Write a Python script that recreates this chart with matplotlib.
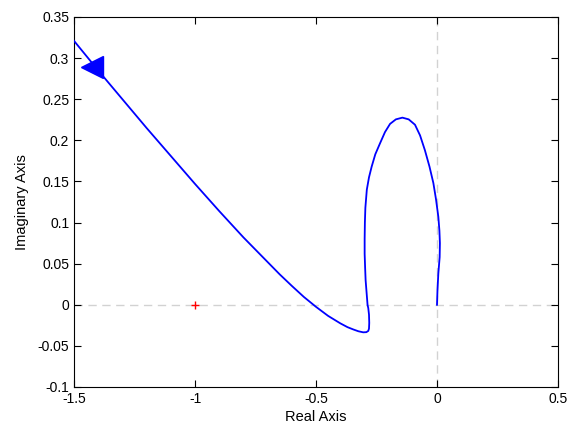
import matplotlib
matplotlib.use("Agg")
import matplotlib.pyplot as plt

plt.rcParams['font.family'] = ['Liberation Sans', 'DejaVu Sans']
plt.rcParams['axes.unicode_minus'] = False

# Nyquist curve (real part, imaginary part), in order
re_vals = [-1.500, -1.400, -1.300, -1.200, -1.100, -1.000, -0.900, -0.800, -0.700,
           -0.650, -0.600, -0.550, -0.500, -0.450, -0.400, -0.370, -0.346, -0.325, -0.305,
           -0.292, -0.284, -0.281, -0.280, -0.281, -0.284, -0.287, -0.291, -0.295,
           -0.297, -0.299, -0.299, -0.298, -0.296, -0.290, -0.281, -0.270, -0.255,
           -0.236, -0.215, -0.194, -0.170, -0.143, -0.117, -0.091, -0.070, -0.050,
           -0.031, -0.015, -0.004, 0.0055, 0.010, 0.012, 0.011, 0.0055, 0.002, 0.0]
im_vals = [0.321, 0.285, 0.250, 0.215, 0.181, 0.147, 0.114, 0.082, 0.052,
           0.037, 0.023, 0.0095, -0.0025, -0.0135, -0.0225, -0.0272, -0.0300, -0.0322, -0.0335,
           -0.0333, -0.0318, -0.0290, -0.0220, -0.0120, -0.0040, 0.0, 0.015, 0.030,
           0.045, 0.062, 0.080, 0.100, 0.118, 0.140, 0.155, 0.168, 0.183,
           0.196, 0.210, 0.220, 0.2255, 0.2276, 0.2255, 0.219, 0.206, 0.188,
           0.168, 0.148, 0.128, 0.107, 0.090, 0.075, 0.058, 0.038, 0.018, 0.0]

arrow_pos = (-1.424, 0.289)
critical_point = (-1.0, 0.0)

xticks = [-1.5, -1, -0.5, 0, 0.5]
xticklabels = ['-1.5', '-1', '-0.5', '0', '0.5']
yticks = [-0.1, -0.05, 0, 0.05, 0.1, 0.15, 0.2, 0.25, 0.3, 0.35]
yticklabels = ['-0.1', '-0.05', '0', '0.05', '0.1', '0.15', '0.2', '0.25', '0.3', '0.35']

fig = plt.figure(figsize=(5.69, 4.28), dpi=100)
ax = fig.add_axes([74/569, (428-387)/428, (558-74)/569, (387-17)/428])

ax.axhline(0, color='#d2d2d2', lw=1.0, ls=(0, (6, 4)), zorder=1)
ax.axvline(0, color='#d2d2d2', lw=1.0, ls=(0, (6, 4)), zorder=1)

ax.plot(re_vals, im_vals, color='#0000ff', lw=1.3, zorder=3,
        solid_joinstyle='round')
ax.plot([arrow_pos[0]], [arrow_pos[1]], marker='<', markersize=15.5,
        color='#0000ff', mec='#0000ff', zorder=4)
ax.plot([critical_point[0]], [critical_point[1]], marker='+', markersize=6,
        color='red', mew=1.0, zorder=4)

ax.set_xlim(-1.5, 0.5)
ax.set_ylim(-0.1, 0.35)
ax.set_xticks(xticks)
ax.set_xticklabels(xticklabels)
ax.set_yticks(yticks)
ax.set_yticklabels(yticklabels)
ax.tick_params(direction='in', length=5, width=0.8, top=True, right=True,
               labelsize=10, colors='black')
for s in ax.spines.values():
    s.set_linewidth(0.8)
ax.set_xlabel('Real Axis', fontsize=10.5, labelpad=3)
ax.set_ylabel('Imaginary Axis', fontsize=10.5, labelpad=6)

fig.savefig('out.png', dpi=100)
